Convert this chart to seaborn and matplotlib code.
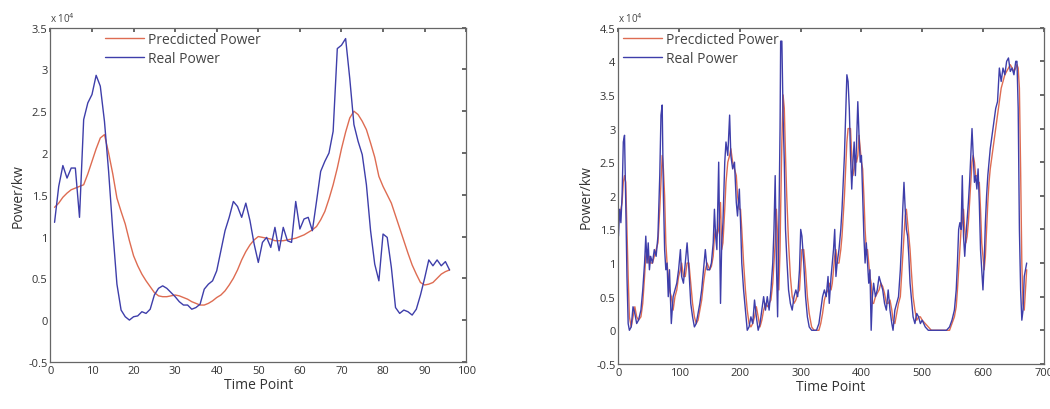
import numpy as np
import pandas as pd
import matplotlib
matplotlib.use("Agg")
import matplotlib.pyplot as plt
import seaborn as sns
from matplotlib.ticker import FuncFormatter

# ---- data (values in units of 1e4 kW) ----
left_x = list(range(1, 97))
left_real = [1.17, 1.6, 1.85, 1.7, 1.82, 1.82, 1.23, 2.4, 2.6, 2.7,
             2.93, 2.8, 2.38, 1.78, 1.07, 0.43, 0.12, 0.04, 0.0, 0.04,
             0.05, 0.1, 0.08, 0.13, 0.3, 0.38, 0.41, 0.38, 0.33, 0.28,
             0.22, 0.18, 0.18, 0.13, 0.15, 0.19, 0.37, 0.43, 0.47, 0.59,
             0.83, 1.07, 1.23, 1.42, 1.36, 1.23, 1.4, 1.19, 0.91, 0.69,
             0.93, 0.99, 0.87, 1.11, 0.83, 1.11, 0.95, 0.93, 1.42, 1.09,
             1.21, 1.23, 1.07, 1.42, 1.78, 1.9, 2.0, 2.26, 3.25, 3.29,
             3.37, 2.89, 2.34, 2.14, 1.98, 1.62, 1.07, 0.67, 0.47, 1.03,
             0.99, 0.63, 0.15, 0.08, 0.12, 0.1, 0.06, 0.13, 0.3, 0.5,
             0.72, 0.65, 0.72, 0.65, 0.7, 0.6]
left_pred = [1.35, 1.4, 1.47, 1.52, 1.56, 1.58, 1.6, 1.62, 1.75, 1.9,
             2.05, 2.18, 2.22, 2.0, 1.75, 1.46, 1.3, 1.15, 0.95, 0.77,
             0.65, 0.55, 0.47, 0.4, 0.33, 0.29, 0.28, 0.28, 0.29, 0.3,
             0.29, 0.27, 0.25, 0.22, 0.2, 0.18, 0.18, 0.2, 0.23, 0.27,
             0.3, 0.35, 0.42, 0.5, 0.6, 0.72, 0.82, 0.9, 0.96, 1.0,
             0.99, 0.98, 0.97, 0.95, 0.95, 0.95, 0.96, 0.97, 0.98, 1.0,
             1.02, 1.05, 1.08, 1.12, 1.2, 1.3, 1.45, 1.62, 1.82, 2.05,
             2.25, 2.42, 2.5, 2.46, 2.38, 2.28, 2.12, 1.95, 1.72, 1.6,
             1.5, 1.4, 1.25, 1.1, 0.95, 0.8, 0.66, 0.55, 0.45, 0.42,
             0.43, 0.45, 0.5, 0.55, 0.58, 0.6]

right_x = [0, 2, 4, 6, 8, 10, 12, 14, 16, 18, 21, 24, 27, 30, 33, 37, 40, 43, 45, 47,
           49, 51, 53, 56, 59, 62, 65, 68, 70, 72, 74, 76, 78, 80, 82, 84, 87, 90, 93, 96,
           99, 102, 104, 107, 110, 113, 116, 119, 122, 125, 128, 131, 134, 137, 140, 143, 146, 150, 153, 156,
           158, 160, 162, 165, 168, 170, 172, 175, 177, 180, 183, 185, 188, 191, 194, 196, 199, 201, 203, 206,
           209, 212, 215, 218, 221, 224, 227, 230, 233, 236, 239, 242, 245, 248, 251, 254, 256, 258, 260, 262,
           264, 266, 267, 269, 271, 273, 275, 277, 280, 283, 286, 289, 292, 295, 298, 300, 302, 305, 308, 311,
           314, 318, 322, 326, 330, 333, 336, 339, 342, 345, 347, 350, 352, 354, 356, 358, 360, 363, 366, 368,
           370, 372, 374, 376, 378, 380, 382, 384, 386, 388, 390, 392, 394, 396, 398, 400, 402, 404, 406, 408,
           410, 412, 414, 416, 418, 420, 423, 426, 429, 432, 435, 438, 441, 444, 447, 450, 452, 455, 458, 461,
           464, 466, 468, 470, 472, 474, 476, 478, 480, 482, 485, 488, 491, 494, 497, 500, 505, 510, 515, 520,
           525, 530, 535, 540, 545, 549, 553, 556, 558, 560, 562, 564, 566, 568, 570, 572, 574, 576, 578, 580,
           582, 584, 586, 588, 590, 592, 594, 596, 598, 600, 602, 604, 606, 608, 610, 612, 615, 618, 621, 624,
           627, 630, 633, 636, 639, 642, 645, 648, 651, 654, 656, 658, 660, 662, 664, 666, 668, 670, 672]
right_real = [1.4, 1.8, 1.6, 2.0, 2.8, 2.9, 1.9, 0.8, 0.1, 0.0, 0.05, 0.35, 0.25, 0.1, 0.15, 0.3, 0.6, 1.0, 1.4, 1.0,
              1.3, 0.9, 1.1, 1.0, 1.2, 1.1, 1.4, 2.3, 3.2, 3.35, 2.0, 1.2, 0.9, 1.0, 0.5, 0.9, 0.1, 0.5, 0.6, 0.7,
              0.9, 1.2, 0.8, 0.7, 1.0, 1.3, 0.9, 0.4, 0.2, 0.05, 0.1, 0.25, 0.4, 0.6, 0.9, 1.2, 0.9, 0.9, 1.0, 1.3,
              1.8, 1.4, 1.2, 2.5, 0.4, 1.3, 1.6, 2.5, 2.8, 2.6, 3.2, 2.6, 2.4, 2.5, 1.9, 1.7, 2.1, 1.6, 1.0, 0.6,
              0.3, 0.0, 0.05, 0.2, 0.1, 0.45, 0.2, 0.0, 0.1, 0.3, 0.5, 0.3, 0.5, 0.3, 0.6, 1.0, 1.5, 2.3, 1.0, 0.2,
              1.5, 3.0, 4.3, 4.3, 3.2, 2.5, 1.5, 1.1, 0.6, 0.4, 0.3, 0.5, 0.6, 0.5, 0.9, 1.5, 1.4, 1.0, 0.5, 0.2,
              0.05, 0.0, 0.0, 0.0, 0.1, 0.3, 0.5, 0.6, 0.5, 0.8, 0.4, 0.8, 1.0, 1.2, 1.5, 0.8, 1.0, 1.2, 1.5, 1.8,
              2.2, 2.6, 3.2, 3.8, 3.7, 3.3, 2.6, 2.1, 2.5, 2.8, 2.3, 2.8, 3.4, 2.9, 2.5, 2.6, 2.0, 1.4, 1.0, 1.3,
              1.0, 0.7, 0.9, 0.0, 0.5, 0.7, 0.5, 0.6, 0.8, 0.7, 0.6, 0.4, 0.3, 0.6, 0.3, 0.1, 0.0, 0.3, 0.4, 0.5,
              0.9, 1.3, 1.8, 2.2, 1.8, 1.5, 1.4, 1.1, 0.7, 0.5, 0.2, 0.1, 0.25, 0.2, 0.1, 0.15, 0.05, 0.0, 0.0, 0.0,
              0.0, 0.0, 0.0, 0.0, 0.05, 0.15, 0.3, 0.6, 1.0, 1.5, 1.6, 1.5, 2.3, 1.4, 1.1, 1.4, 1.65, 1.9, 2.2, 2.6,
              3.0, 2.6, 2.2, 2.3, 2.1, 2.4, 1.9, 1.2, 0.9, 0.6, 1.0, 1.6, 2.0, 2.3, 2.5, 2.7, 2.9, 3.1, 3.3, 3.4,
              3.9, 3.7, 3.9, 3.8, 4.0, 4.05, 3.85, 3.9, 3.8, 4.0, 4.0, 3.3, 1.5, 0.6, 0.15, 0.3, 0.8, 0.9, 1.0]
right_pred = [1.6, 1.7, 1.8, 1.9, 2.2, 2.3, 2.2, 1.5, 0.8, 0.2, 0.05, 0.2, 0.35, 0.2, 0.15, 0.2, 0.4, 0.8, 1.1, 1.2,
              1.0, 1.1, 1.0, 1.0, 1.1, 1.2, 1.3, 1.8, 2.2, 2.6, 2.4, 2.0, 1.3, 1.0, 0.8, 0.6, 0.5, 0.3, 0.5, 0.6,
              0.8, 0.9, 1.0, 0.8, 0.8, 1.0, 1.0, 0.7, 0.4, 0.2, 0.1, 0.15, 0.3, 0.45, 0.7, 0.9, 1.0, 0.9, 0.95, 1.1,
              1.4, 1.5, 1.4, 1.5, 1.9, 1.2, 1.3, 1.8, 2.2, 2.5, 2.6, 2.7, 2.5, 2.4, 2.3, 2.0, 1.8, 1.8, 1.5, 1.0,
              0.6, 0.3, 0.1, 0.05, 0.1, 0.2, 0.35, 0.2, 0.05, 0.15, 0.3, 0.4, 0.35, 0.4, 0.45, 0.7, 1.0, 1.3, 1.8, 1.4,
              0.6, 1.2, 1.8, 2.8, 3.5, 3.3, 2.6, 2.0, 1.3, 0.8, 0.5, 0.4, 0.45, 0.55, 0.6, 0.9, 1.2, 1.2, 0.9, 0.5,
              0.25, 0.05, 0.0, 0.0, 0.0, 0.1, 0.25, 0.45, 0.55, 0.6, 0.7, 0.6, 0.7, 0.9, 1.1, 1.2, 1.0, 1.0, 1.2, 1.4,
              1.7, 2.0, 2.4, 2.8, 3.0, 3.0, 3.0, 2.6, 2.3, 2.4, 2.6, 2.5, 2.6, 2.9, 2.7, 2.5, 2.4, 2.0, 1.5, 1.2,
              1.2, 1.0, 0.8, 0.7, 0.4, 0.4, 0.5, 0.55, 0.6, 0.7, 0.65, 0.55, 0.4, 0.4, 0.45, 0.3, 0.15, 0.1, 0.25, 0.4,
              0.5, 0.8, 1.1, 1.4, 1.7, 1.8, 1.6, 1.4, 1.2, 0.9, 0.5, 0.3, 0.15, 0.2, 0.2, 0.15, 0.1, 0.05, 0.0, 0.0,
              0.0, 0.0, 0.0, 0.0, 0.0, 0.1, 0.2, 0.35, 0.6, 0.9, 1.2, 1.5, 1.6, 1.8, 1.5, 1.3, 1.4, 1.6, 1.9, 2.2,
              2.5, 2.6, 2.5, 2.3, 2.3, 2.2, 2.2, 1.8, 1.3, 1.1, 0.9, 1.1, 1.5, 1.9, 2.2, 2.4, 2.6, 2.8, 3.0, 3.2,
              3.4, 3.6, 3.7, 3.8, 3.85, 3.9, 3.95, 3.9, 3.85, 3.9, 3.95, 3.9, 3.6, 2.4, 1.0, 0.4, 0.3, 0.6, 0.9]

SCALE = 1e4
red = "#de6c52"
blue = "#3e3eaa"

sns.set_theme(style="white")
plt.rcParams['font.family'] = ['Open Sans', 'DejaVu Sans']

fig = plt.figure(figsize=(10.5, 4.1), dpi=100)
ax1 = fig.add_axes([0.048, 0.115, 0.396, 0.815])
ax2 = fig.add_axes([0.589, 0.11, 0.405, 0.82])


def make_df(x, pred, real):
    d1 = pd.DataFrame({"Time Point": x, "Power": np.array(pred) * SCALE, "series": "Precdicted Power"})
    d2 = pd.DataFrame({"Time Point": x, "Power": np.array(real) * SCALE, "series": "Real Power"})
    return pd.concat([d1, d2], ignore_index=True)


def style_axes(ax, xmax, xstep, ymax):
    ax.set_xlim(0, xmax)
    ax.set_ylim(-0.5 * SCALE, ymax * SCALE)
    ax.set_xticks(np.arange(0, xmax + 1, xstep))
    ax.set_yticks(np.arange(-0.5, ymax + 0.01, 0.5) * SCALE)
    ax.yaxis.set_major_formatter(FuncFormatter(lambda v, p: f"{v / SCALE:g}"))
    ax.tick_params(direction="in", length=3, top=True, right=True, labelsize=8,
                   colors="#555555", labelcolor="#333333", pad=2)
    for s in ax.spines.values():
        s.set_color("#666666")
        s.set_linewidth(0.9)
    ax.set_xlabel("Time Point", fontsize=10, color="#333333", labelpad=1)
    ax.set_ylabel("Power/kw", fontsize=10, color="#333333", labelpad=2)
    ax.text(0.0, 1.008, r"x 10$^4$", transform=ax.transAxes, fontsize=7,
            color="#444444", ha="left", va="bottom")


legend_kw = dict(loc="upper left", frameon=False, fontsize=10, handlelength=2.8,
                 handletextpad=0.3, labelspacing=0.25, borderaxespad=0.0,
                 borderpad=0.2, labelcolor="#444444")

df_left = make_df(left_x, left_pred, left_real)
sns.lineplot(data=df_left, x="Time Point", y="Power", hue="series",
             palette={"Precdicted Power": red, "Real Power": blue},
             linewidth=1.0, ax=ax1)
style_axes(ax1, 100, 10, 3.5)
ax1.legend(bbox_to_anchor=(0.125, 0.995), **legend_kw)

df_right = make_df(right_x, right_pred, right_real)
sns.lineplot(data=df_right, x="Time Point", y="Power", hue="series",
             palette={"Precdicted Power": red, "Real Power": blue},
             linewidth=1.0, ax=ax2)
style_axes(ax2, 700, 100, 4.5)
ax2.legend(bbox_to_anchor=(0.005, 0.995), **legend_kw)

fig.savefig("out.png", dpi=100)
